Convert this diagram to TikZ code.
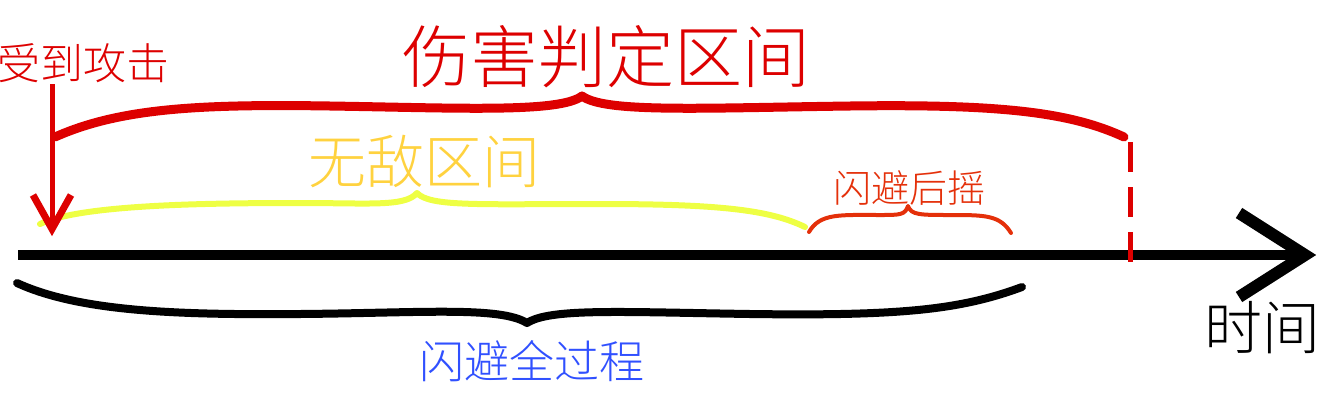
\documentclass[tikz,border=0pt]{standalone}
\usepackage{fontspec}
\usetikzlibrary{calc}
\newfontfamily\cjk{Noto Sans CJK SC Light}
\definecolor{dmgred}{HTML}{DD0000}
\definecolor{invyel}{HTML}{EEFF44}
\definecolor{invtxt}{HTML}{FFD23F}
\definecolor{recov}{HTML}{E4300A}
\definecolor{dodgeblue}{HTML}{3050FF}
\tikzset{
  lbl/.style={inner sep=0pt, anchor=center, font=\cjk},
  bracepath/.style={line width=#1, line cap=round, line join=round},
}
\begin{document}
\begin{tikzpicture}[x=1pt, y=-1pt]
\useasboundingbox (0,0) rectangle (1320,400);

% texts
\node[lbl, text=dmgred, font=\cjk\fontsize{43}{50}\selectfont] (hit) at (84,63) {受到攻击};
\node[lbl, text=dmgred, font=\cjk\fontsize{68}{80}\selectfont] (dmg) at (606,57) {伤害判定区间};
\node[lbl, text=invtxt, font=\cjk\fontsize{58}{66}\selectfont] (inv) at (424,162) {无敌区间};
\node[lbl, text=recov, font=\cjk\fontsize{38}{44}\selectfont] (rec) at (909,188) {闪避后摇};
\node[lbl, text=dodgeblue, font=\cjk\fontsize{45}{52}\selectfont] (dodge) at (532,361) {闪避全过程};
\node[lbl, text=black, font=\cjk\fontsize{58}{66}\selectfont] (time) at (1262,328) {时间};

% coordinates
\coordinate (axisstart) at (18,255);
\coordinate (axisend) at (1305,255);
\coordinate (hitstart) at (52,84);
\coordinate (hittip) at (52,229);
\coordinate (dmgend) at (1130,142);
\coordinate (dmgaxis) at (1130,262);

% time axis
\draw[line width=10, line cap=butt] (axisstart) -- (axisend);
\draw[line width=12, line join=miter] ($(axisend)+(-66,-42)$) -- (axisend) -- ++(-66,42);

% dashed end of damage window
\draw[dmgred, line width=5, dash pattern=on 30 off 15] (dmgend) -- (dmgaxis);

% damage brace
\draw[dmgred, bracepath=9] (55,137) .. controls (120,108) and (200,104) .. (330,106)
  .. controls (460,108) and (560,113) .. (582,96)
  .. controls (605,113) and (700,108) .. (850,106)
  .. controls (1000,104) and (1070,112) .. (1124,137);

% invincibility brace
\draw[invyel, bracepath=6] (40,224) .. controls (80,205) and (200,203) .. (300,203)
  .. controls (370,203) and (405,207) .. (417,193)
  .. controls (430,207) and (480,204) .. (600,204)
  .. controls (720,204) and (770,210) .. (805,227);

% recovery brace
\draw[recov, bracepath=4] (809,232) .. controls (820,213) and (840,215) .. (880,215)
  .. controls (900,215) and (905,215) .. (908,206)
  .. controls (911,215) and (920,215) .. (950,215)
  .. controls (985,215) and (1000,215) .. (1011,233);

% whole dodge brace
\draw[black, bracepath=8] (17,283) .. controls (80,312) and (180,315) .. (300,314)
  .. controls (420,313) and (500,306) .. (527,323)
  .. controls (550,308) and (620,312) .. (750,314)
  .. controls (900,316) and (960,310) .. (1022,287);

% hit arrow
\draw[dmgred, line width=5] (hitstart) -- (hittip);
\draw[dmgred, line width=7, line join=miter] ($(hittip)+(-19,-34)$) -- (hittip) -- ++(19,-34);
\end{tikzpicture}
\end{document}
